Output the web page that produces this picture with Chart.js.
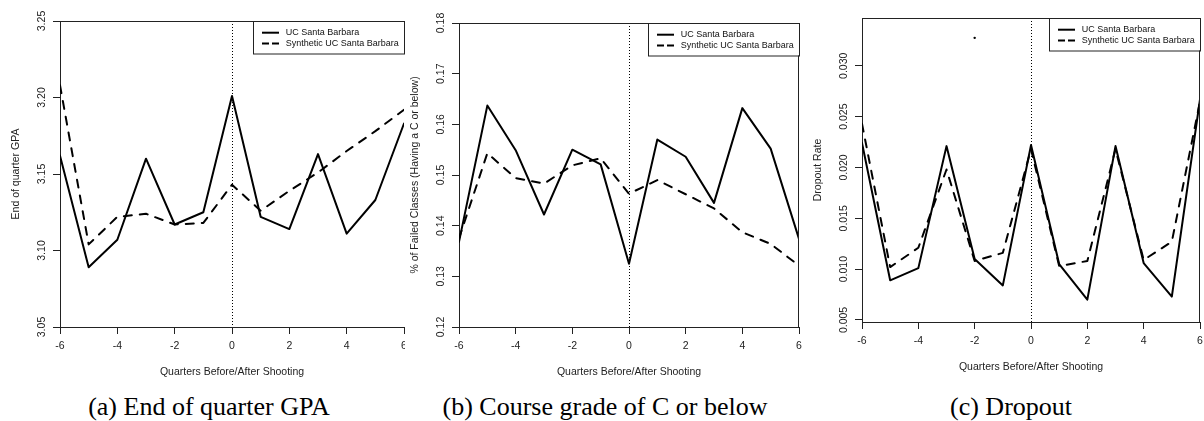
<!DOCTYPE html>
<html>
<head>
<meta charset="utf-8">
<script src="https://cdn.jsdelivr.net/npm/chart.js@4"></script>
<style>
  body { margin: 0; background: #fff; width: 1204px; height: 421px; position: relative; overflow: hidden; }
  canvas { position: absolute; top: 0; }
  .caption { position: absolute; top: 394px; font-family: "Liberation Serif", "Times New Roman", serif; font-size: 26px; line-height: 26px; white-space: nowrap; transform: translateX(-50%); color: #000; }
</style>
</head>
<body>
<canvas id="chartA" width="405" height="385" style="left:0px"></canvas>
<canvas id="chartB" width="403" height="385" style="left:405px"></canvas>
<canvas id="chartC" width="396" height="380" style="left:808px"></canvas>
<div class="caption" style="left:209px">(a) End of quarter GPA</div>
<div class="caption" style="left:605px">(b) Course grade of C or below</div>
<div class="caption" style="left:1011px">(c) Dropout</div>
<script>
// data
var quarters = [-6, -5, -4, -3, -2, -1, 0, 1, 2, 3, 4, 5, 6];
var quarterTicks = [-6, -4, -2, 0, 2, 4, 6];
var seriesNames = ["UC Santa Barbara", "Synthetic UC Santa Barbara"];

var gpaUCSB  = [3.162, 3.089, 3.107, 3.160, 3.117, 3.125, 3.201, 3.122, 3.114, 3.163, 3.111, 3.133, 3.183];
var gpaSynth = [3.208, 3.104, 3.122, 3.124, 3.117, 3.118, 3.143, 3.126, 3.139, 3.151, 3.165, 3.178, 3.192];
var gpaTicks = ["3.05", "3.10", "3.15", "3.20", "3.25"];

var failUCSB  = [0.1368, 0.1637, 0.1549, 0.1422, 0.1550, 0.1521, 0.1325, 0.1570, 0.1536, 0.1445, 0.1632, 0.1552, 0.1374];
var failSynth = [0.1375, 0.1543, 0.1494, 0.1483, 0.1519, 0.1533, 0.1463, 0.1490, 0.1462, 0.1434, 0.1387, 0.1364, 0.1321];
var failTicks = ["0.12", "0.13", "0.14", "0.15", "0.16", "0.17", "0.18"];

var dropUCSB  = [0.0224, 0.0089, 0.0101, 0.0221, 0.0110, 0.0084, 0.0222, 0.0105, 0.0070, 0.0221, 0.0106, 0.0073, 0.0267];
var dropSynth = [0.0243, 0.0102, 0.0121, 0.0198, 0.0108, 0.0116, 0.0218, 0.0103, 0.0108, 0.0218, 0.0109, 0.0127, 0.0265];
var dropDotX = [-2];
var dropDotY = [0.03275];
var dropTicks = ["0.005", "0.010", "0.015", "0.020", "0.025", "0.030"];

var FONT = '"Liberation Sans", Arial, sans-serif';
var INK = "#222";

function pts(xs, ys) {
  return xs.map(function (q, i) { return { x: q, y: ys[i] }; });
}

// dotted line at 0, box, rotated y labels, legend
var decor = {
  id: "decor",
  beforeDatasetsDraw: function (chart, args, o) {
    var ctx = chart.ctx, a = chart.chartArea;
    var px = Math.round(chart.scales.x.getPixelForValue(0)) + 0.5;
    ctx.save();
    ctx.strokeStyle = "#000";
    ctx.lineWidth = 1;
    ctx.setLineDash([1, 2]);
    ctx.beginPath();
    ctx.moveTo(px, a.top);
    ctx.lineTo(px, a.bottom);
    ctx.stroke();
    ctx.restore();
  },
  afterDraw: function (chart, args, o) {
    var ctx = chart.ctx, a = chart.chartArea, y = chart.scales.y;
    ctx.save();
    ctx.strokeStyle = INK;
    ctx.lineWidth = 1;
    ctx.beginPath();
    ctx.moveTo(a.left, a.top + 0.5);
    ctx.lineTo(a.right, a.top + 0.5);
    if (o.rightBorder) {
      ctx.moveTo(a.right - 0.5, a.top);
      ctx.lineTo(a.right - 0.5, a.bottom);
    }
    ctx.stroke();

    ctx.font = "10.5px " + FONT;
    ctx.fillStyle = INK;
    ctx.textAlign = "center";
    ctx.textBaseline = "middle";
    o.tickLabels.forEach(function (lab) {
      var py = y.getPixelForValue(Number(lab));
      ctx.save();
      ctx.translate(a.left - 18, py);
      ctx.rotate(-Math.PI / 2);
      ctx.fillText(lab, 0, 0);
      ctx.restore();
    });

    // legend box in the top right corner
    var w = 151, h = 32.5, lx = Math.round(a.right - w), ly = Math.round(a.top);
    ctx.fillStyle = "#fff";
    ctx.fillRect(lx, ly, w, h);
    ctx.strokeStyle = INK;
    ctx.strokeRect(lx + 0.5, ly + 0.5, w, h);
    ctx.font = "9px " + FONT;
    ctx.textAlign = "left";
    ctx.fillStyle = "#111";
    chart.data.datasets.slice(0, 2).forEach(function (ds, i) {
      var ry = ly + 11.7 + i * 10.7;
      ctx.strokeStyle = "#000";
      ctx.lineWidth = 2;
      ctx.setLineDash(ds.borderDash ? [7, 3] : []);
      ctx.beginPath();
      ctx.moveTo(lx + 9, ry);
      ctx.lineTo(lx + 26, ry);
      ctx.stroke();
      ctx.fillText(ds.label, lx + 32.7, ry);
    });
    ctx.restore();
  }
};

function makeChart(id, cfg) {
  var datasets = [
    { label: seriesNames[0], data: pts(quarters, cfg.real), borderColor: "#000", borderWidth: 2, pointRadius: 0,
      borderCapStyle: "round", borderJoinStyle: "round", fill: false, tension: 0 },
    { label: seriesNames[1], data: pts(quarters, cfg.synth), borderColor: "#000", borderWidth: 2, pointRadius: 0,
      borderDash: [8, 8], borderCapStyle: "round", borderJoinStyle: "round", fill: false, tension: 0 }
  ];
  if (cfg.dot) {
    datasets.push({ type: "scatter", label: "dot", data: pts(cfg.dot[0], cfg.dot[1]), pointRadius: 1.2,
      pointBackgroundColor: "#000", pointBorderWidth: 0, showLine: false });
  }
  return new Chart(document.getElementById(id), {
    type: "line",
    data: { datasets: datasets },
    options: {
      responsive: false,
      animation: false,
      layout: { padding: { top: cfg.top, right: cfg.padRight, left: 0, bottom: 0 } },
      plugins: {
        legend: { display: false },
        tooltip: { enabled: false },
        decor: { rightBorder: cfg.rightBorder, tickLabels: cfg.ticks }
      },
      scales: {
        x: {
          type: "linear", min: -6, max: 6,
          afterBuildTicks: function (s) { s.ticks = quarterTicks.map(function (v) { return { value: v }; }); },
          afterFit: function (s) { s.height = 58; s.paddingLeft = 0; s.paddingRight = 0; },
          ticks: { font: { family: FONT, size: 10.5 }, color: INK, padding: 6, maxRotation: 0 },
          grid: { drawOnChartArea: false, drawTicks: true, tickLength: 7, color: INK },
          border: { color: INK, width: 1 },
          title: { display: true, text: "Quarters Before/After Shooting", font: { family: FONT, size: 10.5 }, color: INK,
                   padding: { top: 0, bottom: 7 } }
        },
        y: {
          type: "linear", min: cfg.min, max: cfg.max,
          afterBuildTicks: function (s) { s.ticks = cfg.ticks.map(function (v) { return { value: Number(v) }; }); },
          afterFit: function (s) { s.width = cfg.axisW; s.paddingTop = 0; s.paddingBottom = 0; },
          ticks: { display: false },
          grid: { drawOnChartArea: false, drawTicks: true, tickLength: 7, color: INK },
          border: { color: INK, width: 1 },
          title: { display: true, text: cfg.yTitle, font: { family: FONT, size: 10.5 }, color: INK,
                   padding: { top: cfg.titlePad, bottom: 0 } }
        }
      }
    },
    plugins: [decor]
  });
}

makeChart("chartA", { real: gpaUCSB, synth: gpaSynth, ticks: gpaTicks, min: 3.05, max: 3.25,
  top: 21, padRight: 1, axisW: 60, titlePad: 10, rightBorder: false, yTitle: "End of quarter GPA" });
makeChart("chartB", { real: failUCSB, synth: failSynth, ticks: failTicks, min: 0.12, max: 0.18,
  top: 23, padRight: 9, axisW: 54, titlePad: 3.7, rightBorder: true, yTitle: "% of Failed Classes (Having a C or below)" });
makeChart("chartC", { real: dropUCSB, synth: dropSynth, ticks: dropTicks, min: 0.0048, max: 0.0347,
  dot: [dropDotX, dropDotY], top: 18, padRight: 2, axisW: 54, titlePad: 4, rightBorder: true, yTitle: "Dropout Rate" });
</script>
</body>
</html>
